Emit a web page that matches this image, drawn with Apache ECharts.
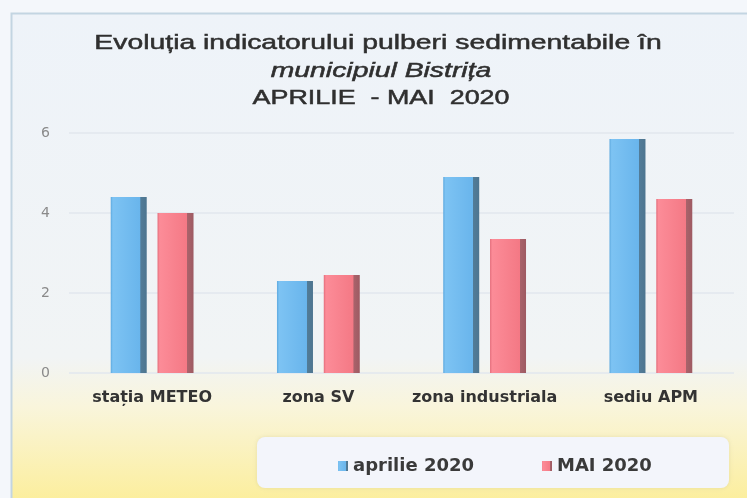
<!DOCTYPE html>
<html>
<head>
<meta charset="utf-8">
<script src="https://cdn.jsdelivr.net/npm/echarts@6/dist/echarts.min.js"></script>
<style>
  html, body { margin: 0; padding: 0; background: #f4f7fb; }
  #chart { width: 747px; height: 498px; }
</style>
</head>
<body>
<div id="chart"></div>
<script>
// categorii (statii) si valori
const categories = ['stația METEO', 'zona SV', 'zona industriala', 'sediu APM'];
const aprilie = [4.4, 2.3, 4.9, 5.85];
const mai = [4.0, 2.45, 3.35, 4.35];
const seriesNames = ['aprilie 2020', 'MAI 2020'];
const yTicks = { min: 0, max: 6, interval: 2 };

const titleLines = [
  'Evoluția indicatorului pulberi sedimentabile în',
  'municipiul Bistrița',
  'APRILIE  - MAI  2020'
];

// culori bare: fata + latura intunecata (efect 3D)
const blueFill = new echarts.graphic.LinearGradient(0, 0, 1, 0, [
  { offset: 0, color: '#5da9df' },
  { offset: 0.06, color: '#7dc3f3' },
  { offset: 0.82, color: '#69b5ec' },
  { offset: 0.83, color: '#527c98' },
  { offset: 1, color: '#4d7590' }
]);
const redFill = new echarts.graphic.LinearGradient(0, 0, 1, 0, [
  { offset: 0, color: '#e46d7b' },
  { offset: 0.06, color: '#fc8c98' },
  { offset: 0.82, color: '#f47985' },
  { offset: 0.83, color: '#a9636b' },
  { offset: 1, color: '#9e5a62' }
]);

const titleStyle = (text, italic) => ({
  text: text,
  align: 'center',
  verticalAlign: 'middle',
  font: (italic ? 'italic ' : '') + '21px "Liberation Sans", Arial, sans-serif',
  fill: '#2f2f2f',
  stroke: '#2f2f2f',
  lineWidth: 0.5
});

const chart = echarts.init(document.getElementById('chart'));

const option = {
  animation: false,
  backgroundColor: '#f4f7fb',
  graphic: [
    {
      type: 'rect',
      z: -100,
      shape: { x: 11.5, y: 13.5, width: 740, height: 490 },
      style: {
        fill: new echarts.graphic.LinearGradient(0, 0, 0, 1, [
          { offset: 0, color: '#eef3f9' },
          { offset: 0.7, color: '#f1f4f5' },
          { offset: 0.8, color: '#f9f5dc' },
          { offset: 1, color: '#fcee9a' }
        ]),
        stroke: '#c3d5e2',
        lineWidth: 2
      }
    },
    {
      type: 'rect',
      z: -50,
      shape: { x: 257, y: 437, width: 472, height: 51, r: 8 },
      style: { fill: '#f3f5fb', shadowBlur: 4, shadowColor: 'rgba(200,190,140,0.4)' }
    },
    { type: 'text', z: 100, x: 378, y: 43, scaleX: 1.35, style: titleStyle(titleLines[0], false) },
    { type: 'text', z: 100, x: 381, y: 71, scaleX: 1.35, style: titleStyle(titleLines[1], true) },
    { type: 'text', z: 100, x: 381, y: 98, scaleX: 1.28, style: titleStyle(titleLines[2], false) }
  ],
  legend: {
    data: seriesNames,
    left: 333,
    top: 452,
    icon: 'rect',
    itemWidth: 10,
    itemHeight: 10,
    itemGap: 68,
    textStyle: {
      fontFamily: 'DejaVu Sans',
      fontWeight: 'bold',
      fontSize: 18,
      color: '#3a3a3a'
    }
  },
  grid: {
    left: 69,
    right: 13,
    top: 133,
    bottom: 125,
    containLabel: false
  },
  xAxis: {
    type: 'category',
    data: categories,
    axisLine: { show: false },
    axisTick: { show: false },
    axisLabel: {
      margin: 17,
      fontFamily: 'DejaVu Sans',
      fontWeight: 'bold',
      fontSize: 16,
      color: '#333333',
      interval: 0
    }
  },
  yAxis: {
    type: 'value',
    min: yTicks.min,
    max: yTicks.max,
    interval: yTicks.interval,
    axisLine: { show: false },
    axisTick: { show: false },
    axisLabel: {
      margin: 19,
      fontFamily: 'DejaVu Sans',
      fontSize: 14,
      color: '#8a8a8a'
    },
    splitLine: { lineStyle: { color: '#e2e7ee', width: 1.5 } }
  },
  series: [
    {
      name: seriesNames[0],
      type: 'bar',
      data: aprilie,
      barWidth: 36,
      barGap: '30%',
      itemStyle: { color: blueFill }
    },
    {
      name: seriesNames[1],
      type: 'bar',
      data: mai,
      barWidth: 36,
      itemStyle: { color: redFill }
    }
  ]
};

chart.setOption(option);
</script>
</body>
</html>
